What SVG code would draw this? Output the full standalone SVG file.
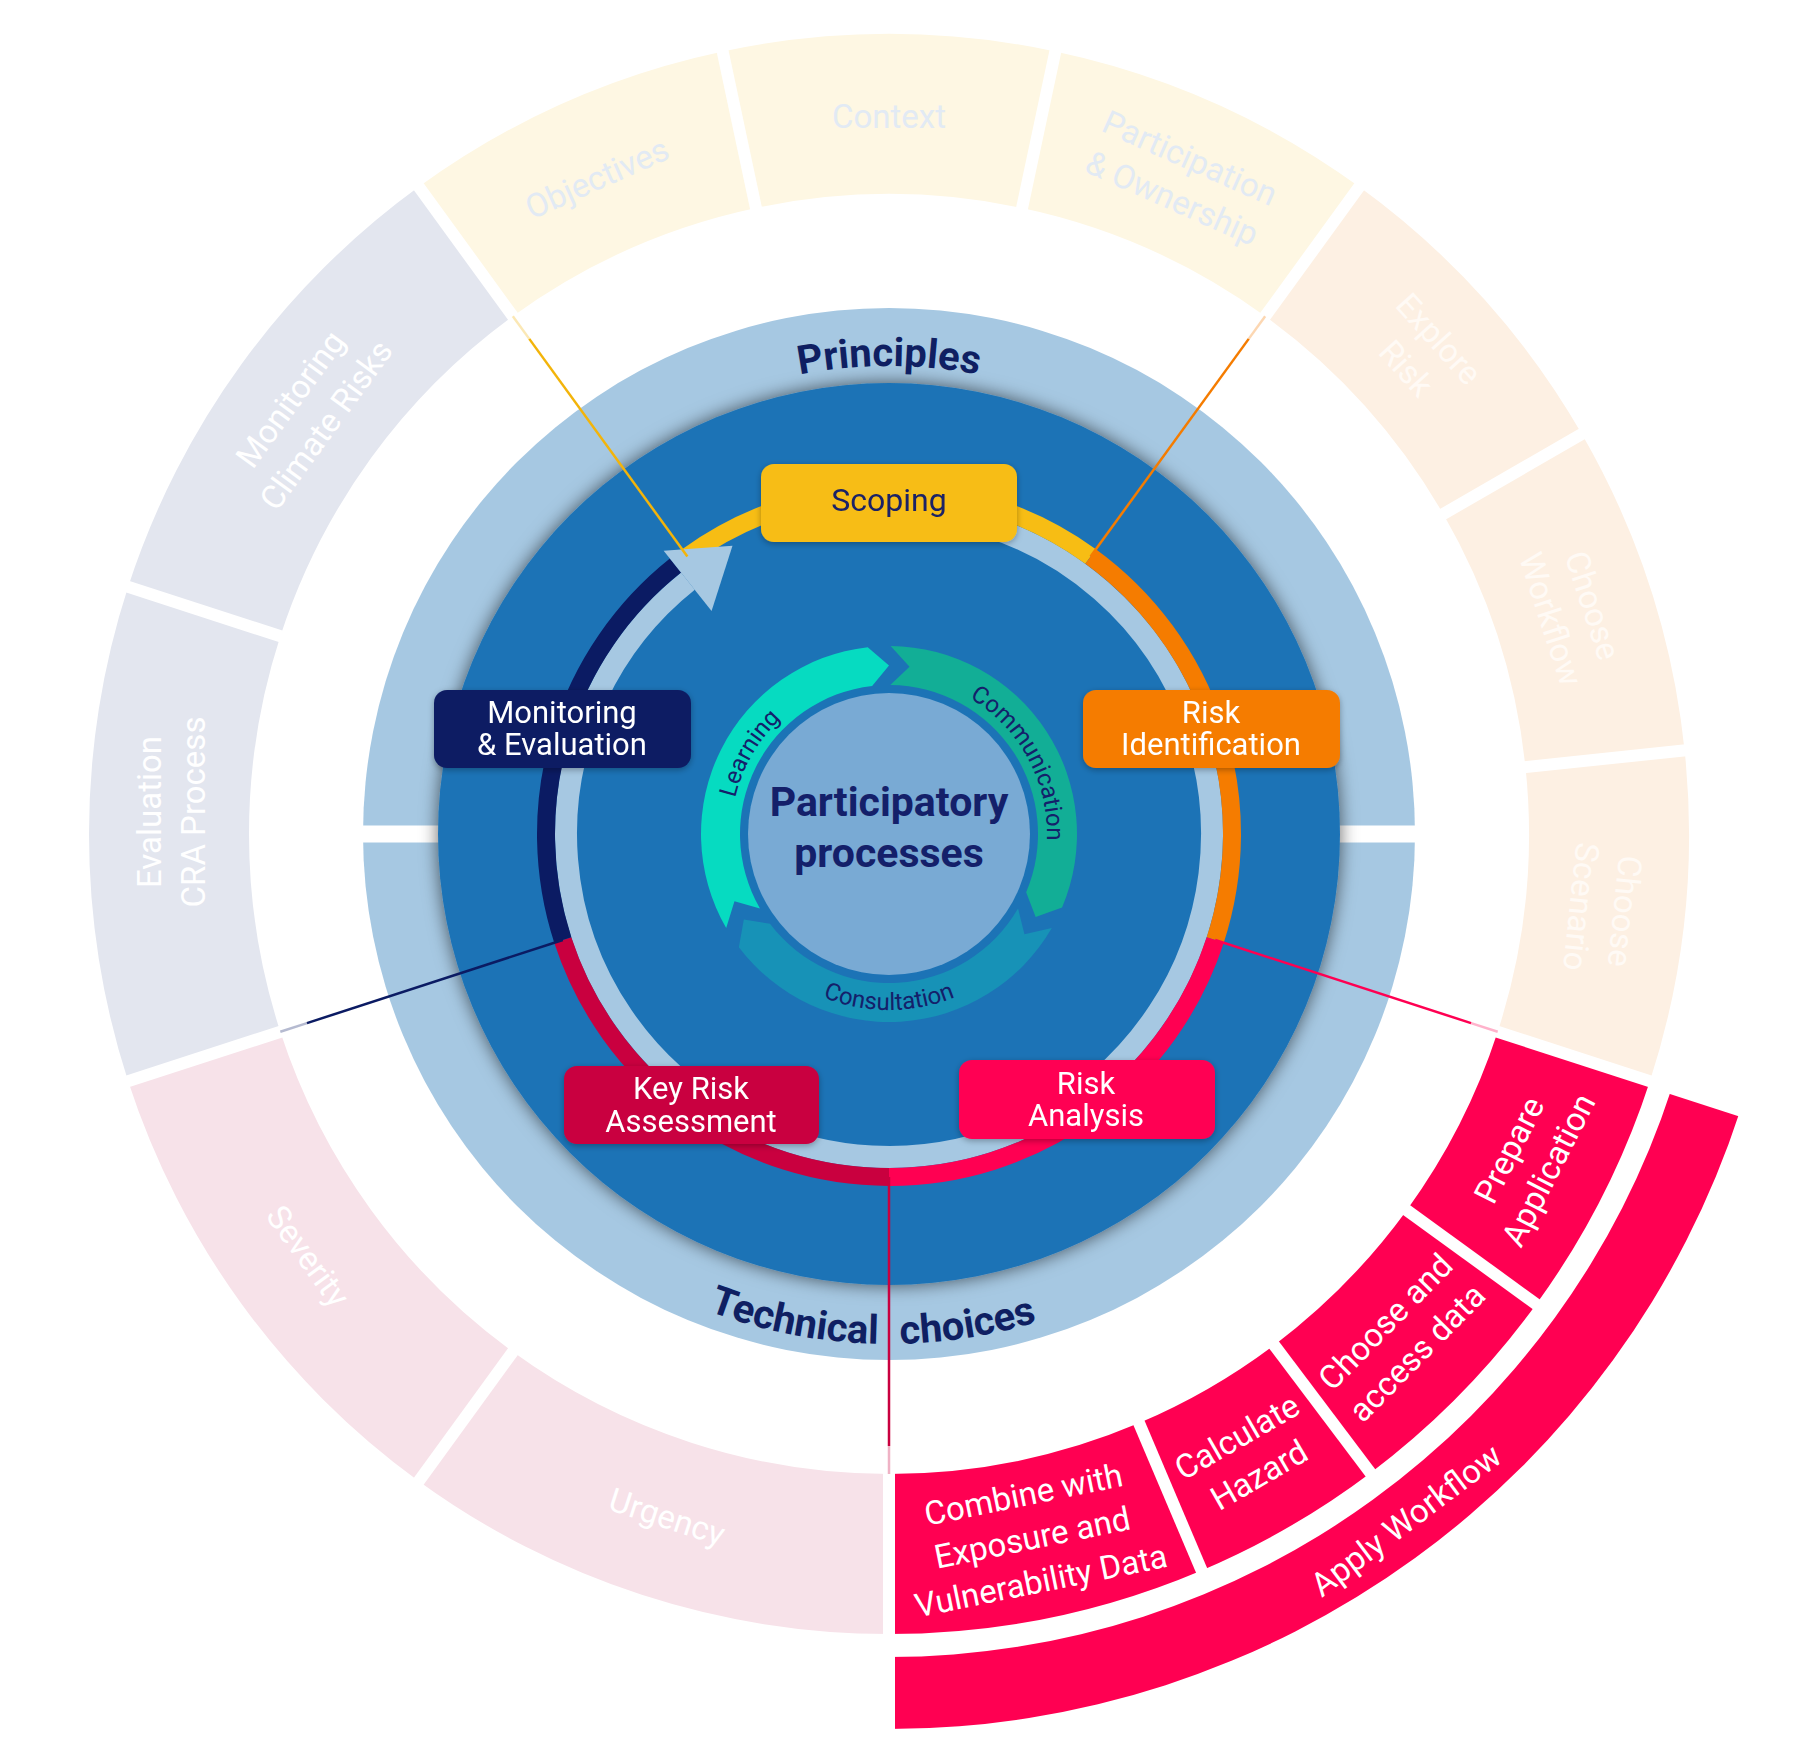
<svg xmlns="http://www.w3.org/2000/svg" width="1805" height="1747" viewBox="0 0 1805 1747">
<defs>
<style>
.seg-y{fill:#fef7e3}
.seg-o{fill:#fdf0e3}
.seg-n{fill:#e3e6ef}
.seg-c{fill:#f7e2e9}
.seg-r{fill:#ff0052}
.ot{font-family:Roboto,'Liberation Sans',sans-serif;font-size:33px;text-anchor:middle}
.ty{fill:#e2eaf4}
.to{fill:#fffaf5}
.tw{fill:#ffffff}
.gap{stroke:#ffffff;stroke-width:12;fill:none}
.ring-t{font-family:Roboto,'Liberation Sans',sans-serif;font-size:40px;font-weight:bold;fill:#0f1f62}
.cyc-t{font-family:Roboto,'Liberation Sans',sans-serif;font-size:24px;fill:#14206a}
.arc{fill:none;stroke-width:18}
.lbl{font-family:Roboto,'Liberation Sans',sans-serif;font-size:31px;fill:#ffffff;text-anchor:middle}
.conn{stroke-width:2.5;fill:none}
</style>
<filter id="diskShadow" x="-20%" y="-20%" width="140%" height="140%">
<feDropShadow dx="0" dy="0" stdDeviation="9" flood-color="#000000" flood-opacity="0.6"/>
</filter>
<filter id="boxShadow" x="-20%" y="-30%" width="140%" height="160%">
<feDropShadow dx="0" dy="2" stdDeviation="3" flood-color="#000000" flood-opacity="0.3"/>
</filter>
<path id="pPrinciples" d="M483.70,600 A468,468 0 0 1 1294.30,600"/>
<path id="pTechnical" d="M386.75,922.56 A510,510 0 0 0 1391.25,922.56"/>
<path id="pLearning" d="M752.17,913 A158,158 0 0 1 889,676"/>
<path id="pCommunication" d="M894.51,676.10 A158,158 0 0 1 1024.43,915.38"/>
<path id="pConsultation" d="M736.58,922 A176,176 0 0 0 1041.42,922"/>
</defs>

<rect x="0" y="0" width="1805" height="1747" fill="#ffffff"/>

<!-- Outer ring: Principles group (yellow) -->
<g id="seg-objectives">
<path class="seg-y" d="M418.77,186.79 A800,800 0 0 1 722.67,51.48 L755.94,207.99 A640,640 0 0 0 512.82,316.23 Z"/>
<text class="ot ty" transform="translate(596.96,178.07) rotate(-24)"><tspan x="0" y="11.5">Objectives</tspan></text>
</g>
<g id="seg-context">
<path class="seg-y" d="M722.67,51.48 A800,800 0 0 1 1055.33,51.48 L1022.06,207.99 A640,640 0 0 0 755.94,207.99 Z"/>
<text class="ot ty" transform="translate(889,116)"><tspan x="0" y="11.5">Context</tspan></text>
</g>
<g id="seg-participation">
<path class="seg-y" d="M1055.33,51.48 A800,800 0 0 1 1359.23,186.79 L1265.18,316.23 A640,640 0 0 0 1022.06,207.99 Z"/>
<text class="ot ty" transform="translate(1181.04,178.07) rotate(24)"><tspan x="0" y="-10.5">Participation</tspan><tspan x="0" y="33.5">&amp; Ownership</tspan></text>
</g>

<!-- Orange group -->
<g id="seg-explore">
<path class="seg-o" d="M1359.23,186.79 A800,800 0 0 1 1581.82,434 L1443.26,514 A640,640 0 0 0 1265.18,316.23 Z"/>
<text class="ot to" transform="translate(1422.58,353.56) rotate(48)"><tspan x="0" y="-10.5">Explore</tspan><tspan x="0" y="33.5">Risk</tspan></text>
</g>
<g id="seg-workflow">
<path class="seg-o" d="M1581.82,434 A800,800 0 0 1 1684.62,750.38 L1525.49,767.10 A640,640 0 0 0 1443.26,514 Z"/>
<text class="ot to" transform="translate(1571.86,612.13) rotate(72)"><tspan x="0" y="-10.5">Choose</tspan><tspan x="0" y="33.5">Workflow</tspan></text>
</g>
<g id="seg-scenario">
<path class="seg-o" d="M1684.62,750.38 A800,800 0 0 1 1649.85,1081.21 L1497.68,1031.77 A640,640 0 0 0 1525.49,767.10 Z"/>
<text class="ot to" transform="translate(1603.07,909.05) rotate(96)"><tspan x="0" y="-10.5">Choose</tspan><tspan x="0" y="33.5">Scenario</tspan></text>
</g>

<!-- Red group -->
<g id="seg-prepare">
<path class="seg-r" d="M1649.85,1081.21 A800,800 0 0 1 1536.21,1304.23 L1406.77,1210.18 A640,640 0 0 0 1497.68,1031.77 Z"/>
<text class="ot tw" transform="translate(1528.74,1159.96) rotate(-63)"><tspan x="0" y="-10.5">Prepare</tspan><tspan x="0" y="33.5">Application</tspan></text>
</g>
<g id="seg-choosedata">
<path class="seg-r" d="M1536.21,1304.23 A800,800 0 0 1 1370.45,1472.91 L1274.16,1345.13 A640,640 0 0 0 1406.77,1210.18 Z"/>
<text class="ot tw" transform="translate(1401.11,1337.25) rotate(-45.5)"><tspan x="0" y="-10.5">Choose and</tspan><tspan x="0" y="33.5">access data</tspan></text>
</g>
<g id="seg-calculate">
<path class="seg-r" d="M1370.45,1472.91 A800,800 0 0 1 1201.58,1570.40 L1139.07,1423.12 A640,640 0 0 0 1274.16,1345.13 Z"/>
<text class="ot tw" transform="translate(1248,1455.81) rotate(-30)"><tspan x="0" y="-10.5">Calculate</tspan><tspan x="0" y="33.5">Hazard</tspan></text>
</g>
<g id="seg-combine">
<path class="seg-r" d="M1201.58,1570.40 A800,800 0 0 1 889,1634 L889,1474 A640,640 0 0 0 1139.07,1423.12 Z"/>
<text class="ot tw" transform="translate(1032.15,1537.59) rotate(-11.5)"><tspan x="0" y="-32.5">Combine with</tspan><tspan x="0" y="11.5">Exposure and</tspan><tspan x="0" y="55.5">Vulnerability Data</tspan></text>
</g>
<g id="seg-apply">
<path class="seg-r" d="M1740.20,1110.57 A895,895 0 0 1 889,1729 L889,1657 A823,823 0 0 0 1671.72,1088.32 Z"/>
<text class="ot tw" transform="translate(1405.96,1520.03) rotate(-37)"><tspan x="0" y="11.5">Apply Workflow</tspan></text>
</g>

<!-- Crimson group -->
<g id="seg-urgency">
<path class="seg-c" d="M889,1634 A800,800 0 0 1 418.77,1481.21 L512.82,1351.77 A640,640 0 0 0 889,1474 Z"/>
<text class="ot tw" transform="translate(667.13,1516.86) rotate(18)"><tspan x="0" y="11.5">Urgency</tspan></text>
</g>
<g id="seg-severity">
<path class="seg-c" d="M418.77,1481.21 A800,800 0 0 1 128.15,1081.21 L280.32,1031.77 A640,640 0 0 0 512.82,1351.77 Z"/>
<text class="ot tw" transform="translate(308.13,1256.03) rotate(54)"><tspan x="0" y="11.5">Severity</tspan></text>
</g>

<!-- Navy group -->
<g id="seg-evaluation">
<path class="seg-n" d="M128.15,1081.21 A800,800 0 0 1 128.15,586.79 L280.32,636.23 A640,640 0 0 0 280.32,1031.77 Z"/>
<text class="ot tw" transform="translate(171,812) rotate(-90)"><tspan x="0" y="-10.5">Evaluation</tspan><tspan x="0" y="33.5">CRA Process</tspan></text>
</g>
<g id="seg-monitoring">
<path class="seg-n" d="M128.15,586.79 A800,800 0 0 1 418.77,186.79 L512.82,316.23 A640,640 0 0 0 280.32,636.23 Z"/>
<text class="ot tw" transform="translate(308.13,411.97) rotate(-54)"><tspan x="0" y="-10.5">Monitoring</tspan><tspan x="0" y="33.5">Climate Risks</tspan></text>
</g>

<!-- white separators between outer segments -->
<g id="gaps" class="gap">
<line x1="518.70" y1="324.32" x2="357.06" y2="101.84"/>
<line x1="758.02" y1="217.77" x2="700.84" y2="-51.22"/>
<line x1="1019.98" y1="217.77" x2="1077.16" y2="-51.22"/>
<line x1="1259.30" y1="324.32" x2="1420.94" y2="101.84"/>
<line x1="1434.60" y1="519" x2="1672.75" y2="381.5"/>
<line x1="1515.55" y1="768.15" x2="1789.04" y2="739.40"/>
<line x1="1488.17" y1="1028.68" x2="1749.71" y2="1113.66"/>
<line x1="1398.68" y1="1204.30" x2="1544.30" y2="1310.11"/>
<line x1="1268.14" y1="1337.14" x2="1376.47" y2="1480.90"/>
<line x1="1135.16" y1="1413.92" x2="1205.49" y2="1579.61"/>
<line x1="889" y1="1464" x2="889" y2="1739"/>
<line x1="518.70" y1="1343.68" x2="357.06" y2="1566.16"/>
<line x1="289.83" y1="1028.68" x2="28.29" y2="1113.66"/>
<line x1="289.83" y1="639.32" x2="28.29" y2="554.34"/>
</g>

<!-- Principles / Technical choices ring -->
<g id="ring">
<circle cx="889" cy="834" r="526" fill="#a6c8e2"/>
<rect x="355" y="825.5" width="1070" height="17" fill="#ffffff"/>
<circle cx="889" cy="834" r="451" fill="#1c73b6" filter="url(#diskShadow)"/>
<text class="ring-t" text-anchor="middle"><textPath href="#pPrinciples" startOffset="50%">Principles</textPath></text>
<text class="ring-t" text-anchor="end"><textPath href="#pTechnical" startOffset="701">Technical</textPath></text>
<text class="ring-t" text-anchor="start"><textPath href="#pTechnical" startOffset="723">choices</textPath></text>
</g>

<!-- process cycle ring -->
<g id="cycle">
<path d="M805.40,522 A323,323 0 1 1 687.93,581.22" fill="none" stroke="#a6c8e2" stroke-width="22"/>
<path class="arc" stroke="#f7bd14" d="M687.39,556.51 A343,343 0 0 1 1090.61,556.51"/>
<path class="arc" stroke="#f57c00" d="M1090.61,556.51 A343,343 0 0 1 1215.21,939.99"/>
<path class="arc" stroke="#ff0052" d="M1215.21,939.99 A343,343 0 0 1 889,1177"/>
<path class="arc" stroke="#c9003f" d="M889,1177 A343,343 0 0 1 562.79,939.99"/>
<path class="arc" stroke="#0b1b63" d="M562.79,939.99 A343,343 0 0 1 675.48,565.57"/>
<polygon points="711.58,610.96 663.65,550.70 732.49,545.75" fill="#a6c8e2"/>
</g>

<!-- participatory inner cycle -->
<g id="participatory">
<circle cx="889" cy="834" r="141" fill="#79aad4"/>
<path d="M726.19,928 A188,188 0 0 1 867.72,647.21 L889,665.5 L872.13,685.96 A149,149 0 0 0 759.96,908.5 L734.47,901.19 Z" fill="#06dbc1"/>
<path d="M890.64,646.01 A188,188 0 0 1 1062.05,907.46 L1035.66,916.97 L1026.16,892.22 A149,149 0 0 0 890.30,685.01 L909.53,666.76 Z" fill="#12ae96"/>
<path d="M1051.81,928 A188,188 0 0 1 738.86,947.14 L743.82,919.52 L770,923.67 A149,149 0 0 0 1018.04,908.5 L1024.45,934.23 Z" fill="#1792b7"/>
<text class="cyc-t" text-anchor="middle"><textPath href="#pLearning" startOffset="50%">Learning</textPath></text>
<text class="cyc-t" text-anchor="middle"><textPath href="#pCommunication" startOffset="50%">Communication</textPath></text>
<text class="cyc-t" text-anchor="middle"><textPath href="#pConsultation" startOffset="50%">Consultation</textPath></text>
<text font-family="Roboto,'Liberation Sans',sans-serif" font-size="41" font-weight="bold" fill="#14206a" text-anchor="middle"><tspan x="889" y="816">Participatory</tspan><tspan x="889" y="867">processes</tspan></text>
</g>

<!-- connectors -->
<g id="connectors">
<line class="conn" stroke="#f3b40a" x1="687.39" y1="556.51" x2="529.28" y2="338.88"/>
<line class="conn" stroke="#f3b40a" stroke-opacity="0.3" x1="529.28" y1="338.88" x2="512.82" y2="316.23"/>
<line class="conn" stroke="#f57c00" x1="1090.61" y1="556.51" x2="1248.72" y2="338.88"/>
<line class="conn" stroke="#f57c00" stroke-opacity="0.3" x1="1248.72" y1="338.88" x2="1265.18" y2="316.23"/>
<line class="conn" stroke="#ff0052" x1="1215.21" y1="939.99" x2="1471.05" y2="1023.12"/>
<line class="conn" stroke="#ff0052" stroke-opacity="0.3" x1="1471.05" y1="1023.12" x2="1497.68" y2="1031.77"/>
<line class="conn" stroke="#c9003f" x1="889" y1="1177" x2="889" y2="1446"/>
<line class="conn" stroke="#c9003f" stroke-opacity="0.3" x1="889" y1="1446" x2="889" y2="1474"/>
<line class="conn" stroke="#0b1b63" x1="562.79" y1="939.99" x2="306.95" y2="1023.12"/>
<line class="conn" stroke="#0b1b63" stroke-opacity="0.3" x1="306.95" y1="1023.12" x2="280.32" y2="1031.77"/>
</g>

<!-- stage nodes -->
<g id="node-scoping" filter="url(#boxShadow)">
<rect x="761" y="464" width="256" height="78" rx="13" fill="#f7bd14"/>
<text class="lbl" style="fill:#1a2366;font-size:32px"><tspan x="889" y="511">Scoping</tspan></text>
</g>
<g id="node-risk-identification" filter="url(#boxShadow)">
<rect x="1083" y="690" width="257" height="78" rx="13" fill="#f57c00"/>
<text class="lbl"><tspan x="1211" y="723">Risk</tspan><tspan x="1211" y="755">Identification</tspan></text>
</g>
<g id="node-risk-analysis" filter="url(#boxShadow)">
<rect x="959" y="1060" width="256" height="79" rx="13" fill="#ff0052"/>
<text class="lbl"><tspan x="1086" y="1094">Risk</tspan><tspan x="1086" y="1126">Analysis</tspan></text>
</g>
<g id="node-key-risk" filter="url(#boxShadow)">
<rect x="564" y="1066" width="255" height="78" rx="13" fill="#c9003f"/>
<text class="lbl"><tspan x="691" y="1099">Key Risk</tspan><tspan x="691" y="1132">Assessment</tspan></text>
</g>
<g id="node-monitoring" filter="url(#boxShadow)">
<rect x="434" y="690" width="257" height="78" rx="13" fill="#0b1b63"/>
<text class="lbl"><tspan x="562" y="723">Monitoring</tspan><tspan x="562" y="755">&amp; Evaluation</tspan></text>
</g>
</svg>
